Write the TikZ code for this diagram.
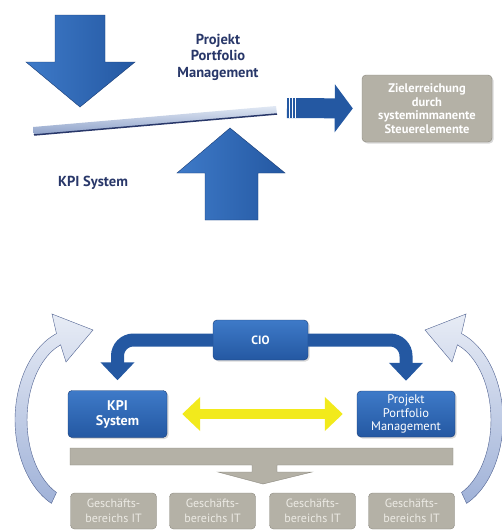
\documentclass[tikz,border=0pt]{standalone}
\usepackage{fontspec}
\setmainfont{PT Sans}
\usepackage{tikz}
\usetikzlibrary{arrows.meta,positioning,shadows}
\definecolor{boxblue}{RGB}{36,88,162}
\definecolor{boxbluelight}{RGB}{62,122,200}
\definecolor{boxbluedark}{RGB}{24,60,118}
\definecolor{navytext}{RGB}{40,55,105}
\definecolor{boxgrey}{RGB}{180,177,166}
\definecolor{boxgreydark}{RGB}{140,137,127}
\definecolor{textgrey}{RGB}{236,234,228}
\definecolor{arcblue}{RGB}{160,178,216}
\definecolor{arcedge}{RGB}{80,98,145}
\definecolor{levertop}{RGB}{225,232,244}
\definecolor{leverbot}{RGB}{140,160,200}
\definecolor{signyellow}{RGB}{242,234,28}

\begin{document}
\begin{tikzpicture}[x=1pt, y=-1pt,
    bluebox/.style={rounded corners=4pt, draw=boxbluedark, top color=boxbluelight,
      bottom color=boxblue, text=white, align=center, inner sep=0pt,
      drop shadow={opacity=0.3, shadow xshift=1.5pt, shadow yshift=-1.5pt}},
    greybox/.style={rounded corners=4pt, draw=boxgreydark, fill=boxgrey,
      align=center, inner sep=0pt},
    cioarrow/.style={line width=13pt, boxblue, rounded corners=16pt,
      -{Triangle[width=33pt,length=18pt]}},
    label/.style={text=navytext, font=\bfseries\fontsize{14.5}{16.5}\selectfont, align=center}]

    \useasboundingbox (0,0) rectangle (501,530);
    \fill[white] (0,0) rectangle (501,530);

    % Hebel oben
    \path[left color=boxbluelight, right color=boxblue, draw=boxbluedark]
      (55,15) -- (105,15) -- (105,62) -- (135,62) -- (80,107) -- (26,62) -- (55,62) -- cycle;
    \path[left color=boxbluelight, right color=boxblue, draw=boxbluedark]
      (205,220) -- (258,220) -- (258,173) -- (285,173) -- (230,128) -- (177,173) -- (205,173) -- cycle;
    \path[top color=levertop, bottom color=leverbot]
      (33,127) -- (276,106) -- (277,114) -- (34,135) -- cycle;
    \draw[line width=1.5pt, navytext] (34,135) -- (277,114);

    \node[label] (ppmlabel) at (218,57) {Projekt\\Portfolio\\Management};
    \node[label] (kpilabel) at (93,183) {KPI System};

    \node[greybox, text=white, minimum width=130, minimum height=67,
      font=\bfseries\fontsize{12.5}{13.5}\selectfont,
      drop shadow={opacity=0.3, shadow xshift=1.5pt, shadow yshift=-1.5pt}]
      (ziel) at (427,108.5) {Zielerreichung\\durch\\systemimmanente\\Steuerelemente};

    \coordinate (hebel) at (287,108);
    \draw[line width=20pt, boxblue, -{Triangle[width=47pt,length=18pt]}, shorten >=9pt]
      (hebel) -- (ziel.west);
    \foreach \i in {289.5,292.5,295.5}
      \draw[white, line width=1.1pt] (\i,98) -- (\i,118);

    % Organisation unten
    \foreach \s/\o in {1/0,-1/518}{
      \begin{scope}[xshift=\o, xscale=\s]
        \path[draw=arcedge, top color=arcblue!25, bottom color=arcblue]
          (51.4,503.4) arc[start angle=115, end angle=250, x radius=63, y radius=92]
          -- (52,314) -- (93,330) -- (66,362) -- (60.6,344.8)
          arc[start angle=250, end angle=115, x radius=51, y radius=80] -- cycle;
      \end{scope}
    }

    \node[bluebox, minimum width=95, minimum height=40,
      font=\bfseries\fontsize{12}{13}\selectfont] (cio) at (260.5,340) {CIO};
    \node[bluebox, minimum width=99, minimum height=47,
      font=\bfseries\fontsize{14}{15}\selectfont] (kpi) at (117.5,414) {KPI\\System};
    \node[bluebox, minimum width=98, minimum height=46,
      font=\fontsize{12.5}{13.3}\selectfont] (ppm) at (406,414) {Projekt\\Portfolio\\Management};

    \draw[cioarrow] (cio.west) -| ([yshift=10pt]kpi.north);
    \draw[cioarrow] (cio.east) -| ([yshift=10pt]ppm.north);

    \draw[line width=10pt, signyellow,
      {Triangle[width=33pt,length=18pt]}-{Triangle[width=33pt,length=18pt]}]
      ([xshift=15pt]kpi.east) -- ([xshift=-14pt]ppm.west);

    \path[fill=boxgrey, draw=boxgreydark]
      (70,448) -- (453,448) -- (453,465) -- (277,465) -- (277,472) -- (312,472)
      -- (263,484) -- (218,472) -- (252,472) -- (252,465) -- (70,465) -- cycle;

    \foreach \n/\xc in {1/113.5,2/212.5,3/312.5,4/411.5}
      \node[greybox, text=textgrey, minimum width=86, minimum height=36,
        font=\fontsize{12}{15}\selectfont] (bu\n) at (\xc,511) {Geschäfts-\\bereichs IT};
\end{tikzpicture}
\end{document}
